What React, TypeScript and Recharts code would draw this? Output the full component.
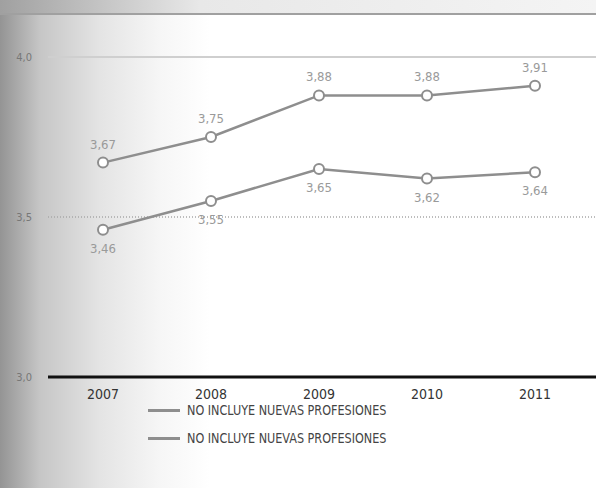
import { LineChart, Line, XAxis, YAxis, ReferenceLine, LabelList } from 'recharts'

const years = ['2007', '2008', '2009', '2010', '2011']
const conNuevas = [3.67, 3.75, 3.88, 3.88, 3.91]
const sinNuevas = [3.46, 3.55, 3.65, 3.62, 3.64]
const yTicks = [3, 3.5, 4]
const legendLabels = ['NO INCLUYE NUEVAS PROFESIONES', 'NO INCLUYE NUEVAS PROFESIONES']

const data = years.map((year, i) => ({ year, a: conNuevas[i], b: sinNuevas[i] }))

const font = '"DejaVu Sans", sans-serif'
const narrow = { fontFamily: font, fontStretch: 'condensed' as const }
const lineColor = '#8e8e8e'
const comma = (v: number) => v.toFixed(2).replace('.', ',')

export default function App() {
  return (
    <div
      style={{
        position: 'absolute',
        left: 0,
        top: 0,
        width: 596,
        height: 488,
        ...narrow,
        background: 'linear-gradient(to right, #949494 0px, #c6c6c6 40px, #e4e4e4 100px, #f6f6f6 160px, #ffffff 210px)',
      }}
    >
      <div style={{ position: 'absolute', left: 0, top: 0, width: 596, height: 13, background: 'linear-gradient(to right, #a0a0a0, #e8e8e8 200px, #f4f4f4)' }} />
      <div style={{ position: 'absolute', left: 0, top: 13, width: 596, height: 2, background: '#a0a0a0' }} />
      <LineChart width={596} height={488} data={data} margin={{ top: 57, right: 0, left: 0, bottom: 81 }}>
        <ReferenceLine y={4} stroke="#cfcfcf" strokeWidth={2} />
        <ReferenceLine y={3.5} stroke="#a8a8a8" strokeWidth={1.5} strokeDasharray="1 2" />
        <XAxis
          dataKey="year"
          height={30}
          padding={{ left: 55, right: 61 }}
          axisLine={{ stroke: '#111', strokeWidth: 3 }}
          tickLine={false}
          tickMargin={6}
          tick={{ fontSize: 14, fill: '#333', style: narrow }}
        />
        <YAxis
          width={48}
          domain={[3, 4]}
          ticks={yTicks}
          axisLine={false}
          tickLine={false}
          tickMargin={10}
          tickFormatter={(v: number) => v.toFixed(1).replace('.', ',')}
          tick={{ fontSize: 11, fill: '#777', style: narrow }}
        />
        <Line
          dataKey="a"
          stroke={lineColor}
          strokeWidth={2.5}
          dot={{ r: 5, fill: '#fff', stroke: lineColor, strokeWidth: 2 }}
          isAnimationActive={false}
        >
          <LabelList dataKey="a" position="top" offset={14} formatter={comma} style={{ fontSize: 13, fill: '#9a9a9a', ...narrow }} />
        </Line>
        <Line
          dataKey="b"
          stroke={lineColor}
          strokeWidth={2.5}
          dot={{ r: 5, fill: '#fff', stroke: lineColor, strokeWidth: 2 }}
          isAnimationActive={false}
        >
          <LabelList dataKey="b" position="bottom" offset={14} formatter={comma} style={{ fontSize: 13, fill: '#9a9a9a', ...narrow }} />
        </Line>
      </LineChart>
      <div style={{ position: 'absolute', left: 148, top: 396 }}>
        {legendLabels.map((label, i) => (
          <div key={i} style={{ display: 'flex', alignItems: 'center', height: 28 }}>
            <span style={{ width: 32, height: 3, background: lineColor, marginRight: 7 }} />
            <span style={{ fontSize: 14.5, color: '#444', display: 'inline-block', whiteSpace: 'nowrap', transform: 'scaleX(0.86)', transformOrigin: 'left center' }}>{label}</span>
          </div>
        ))}
      </div>
    </div>
  )
}
